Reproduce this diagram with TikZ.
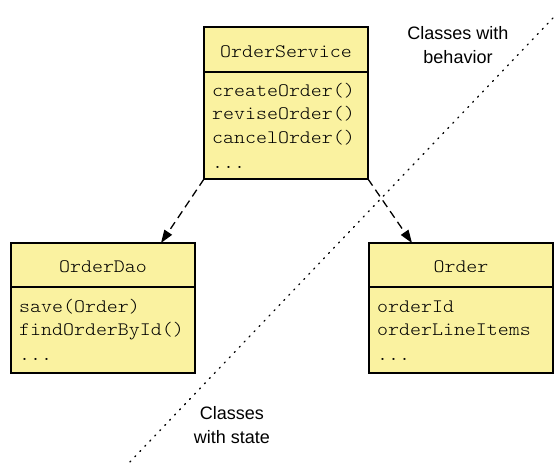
\documentclass[tikz,border=0pt]{standalone}
\usepackage{fontspec}
\setmainfont{Liberation Sans}
\setmonofont{Latin Modern Mono Light}[FakeStretch=1.1]
\usetikzlibrary{arrows.meta,calc}
\definecolor{boxfill}{RGB}{250,242,160}
\begin{document}
\begin{tikzpicture}[x=1pt,y=-1pt,
  classbox/.style={draw=black,fill=boxfill,line width=1.2pt,inner sep=0pt,outer sep=0pt,anchor=north west},
  divider/.style={draw=black,line width=1.2pt},
  mono/.style={font=\ttfamily\fontsize{19}{23.5}\selectfont,inner sep=0pt},
  head/.style={mono,anchor=base},
  item/.style={mono,anchor=base west},
  label/.style={font=\fontsize{18}{24}\selectfont,align=center,inner sep=0pt},
  dep/.style={line width=1.3pt,dash pattern=on 8pt off 5pt,-{Triangle[length=13pt,width=9pt]}},
  sep/.style={line width=1.3pt,dash pattern=on 1.2pt off 6pt,line cap=round}]
\useasboundingbox (0,0) rectangle (555,467);
% OrderService
\node[classbox,minimum width=164pt,minimum height=152pt] (os) at (204,27) {};
\draw[divider] ($(os.north west)+(0,45)$) -- ($(os.north east)+(0,45)$);
\node[head] (osh) at ($(os.north)+(0,30)$) {OrderService};
\node[item] (os1) at ($(os.north west)+(8,69)$) {createOrder()};
\node[item] (os2) at ($(os.north west)+(8,92.5)$) {reviseOrder()};
\node[item] (os3) at ($(os.north west)+(8,116)$) {cancelOrder()};
\node[item] (os4) at ($(os.north west)+(8,141)$) {...};
% OrderDao
\node[classbox,minimum width=184pt,minimum height=130pt] (dao) at (11,243) {};
\draw[divider] ($(dao.north west)+(0,44)$) -- ($(dao.north east)+(0,44)$);
\node[head] (daoh) at ($(dao.north)+(0,29)$) {OrderDao};
\node[item] (dao1) at ($(dao.north west)+(8,69)$) {save(Order)};
\node[item] (dao2) at ($(dao.north west)+(8,92.5)$) {findOrderById()};
\node[item] (dao3) at ($(dao.north west)+(8,117)$) {...};
% Order
\node[classbox,minimum width=184pt,minimum height=130pt] (ord) at (369,243) {};
\draw[divider] ($(ord.north west)+(0,44)$) -- ($(ord.north east)+(0,44)$);
\node[head] (ordh) at ($(ord.north)+(0,29)$) {Order};
\node[item] (ord1) at ($(ord.north west)+(8,69)$) {orderId};
\node[item] (ord2) at ($(ord.north west)+(8,92.5)$) {orderLineItems};
\node[item] (ord3) at ($(ord.north west)+(8,117)$) {...};
% dependencies
\draw[dep] (os.south west) -- ($(dao.north west)+(150,0)$);
\draw[dep] (os.south east) -- ($(ord.north west)+(43,0)$);
% separator
\coordinate (s1) at (553,18);
\coordinate (s2) at (127,465);
\draw[sep] (s1) -- (s2);
\node[label] (lb) at (458,45) {Classes with\\behavior};
\node[label] (ls) at (232,425) {Classes\\with state};
\end{tikzpicture}
\end{document}
